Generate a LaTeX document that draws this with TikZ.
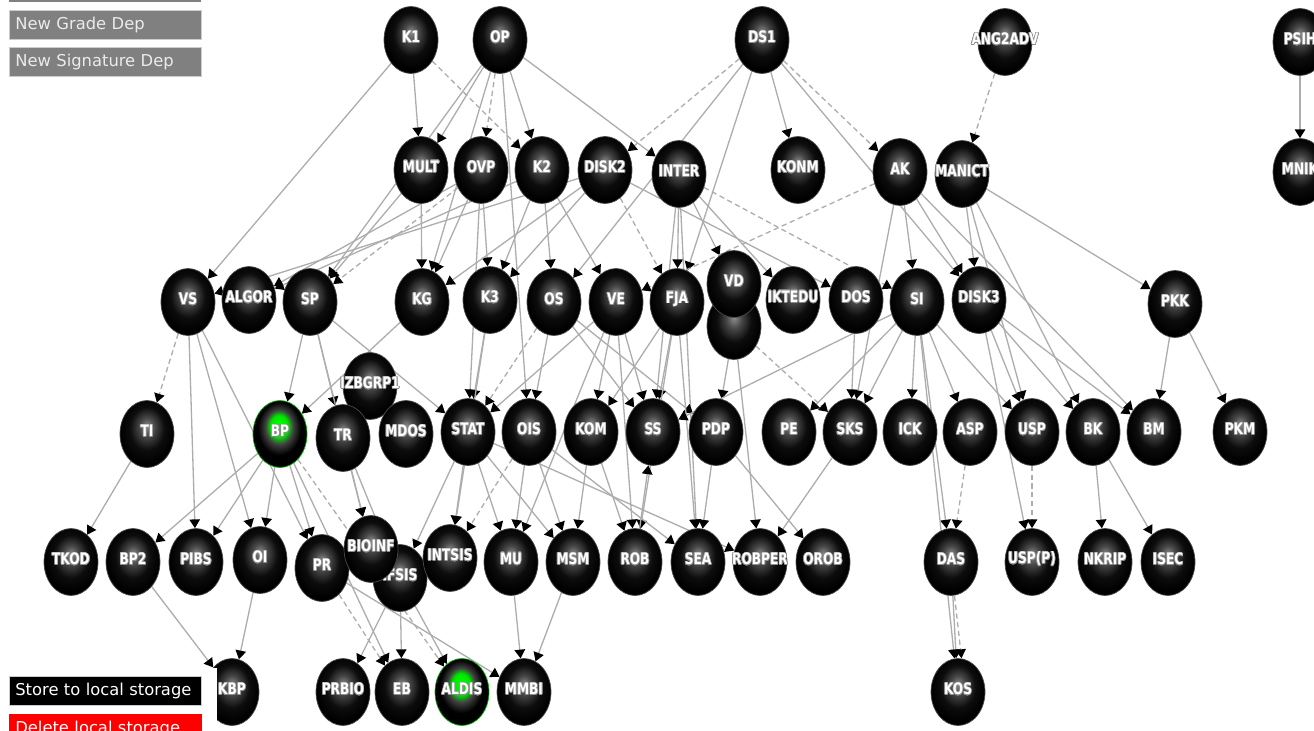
\documentclass[tikz,border=0pt]{standalone}
\usepackage{fontspec}
\setmainfont{DejaVu Sans}
\newfontfamily\coursefont[FakeStretch=0.77]{DejaVu Sans}
\usepackage[copies]{contour}
\contourlength{0.35pt}
\usetikzlibrary{shapes.geometric,arrows.meta,backgrounds}

% shiny course balls
\pgfdeclareradialshading{courseball}{\pgfpoint{0bp}{6bp}}{color(0bp)=(black!45); color(7bp)=(black!72); color(16bp)=(black!95); color(25bp)=(black); color(50bp)=(black)}
\pgfdeclareradialshading{passedball}{\pgfpoint{-1bp}{7bp}}{color(0bp)=(green); color(8bp)=(green!90!black); color(13bp)=(black!75); color(20bp)=(black); color(50bp)=(black)}

\begin{document}
\begin{tikzpicture}[x=0.02cm, y=-0.02cm,
    course/.style={ellipse, minimum width=1.08cm, minimum height=1.34cm, inner sep=0pt,
        shade, shading=courseball, draw=black!70,
        label={[coursetext]center:\contour{black!45}{#1}}},
    coursetext/.style={text=white, inner sep=0pt, yshift=1.6pt,
        font=\coursefont\bfseries\fontsize{9}{10}\selectfont},
    passed/.style={course=#1, shading=passedball, draw=green!70!black},
    dep/.style={draw=black!32, line width=0.75pt, -{Triangle[width=6pt,length=5pt,color=black,fill=black]}},
    sigdep/.style={dep, dash pattern=on 3pt off 2pt},
    button/.style={rectangle, anchor=north west, minimum width=3.84cm, minimum height=0.58cm,
        text width=3.6cm, align=left, inner xsep=0.12cm, font=\fontsize{9.3}{11}\selectfont}]

    \useasboundingbox (0,0) rectangle (1314,730);
    \clip (0,0) rectangle (1314,730);

    % Year 1
    \node [course=K1] (K1) at (411,40) {};
    \node [course=OP] (OP) at (500,40) {};
    \node [course=DS1] (DS1) at (762,40) {};
    \node [course=ANG2ADV] (ANG2ADV) at (1005,42) {};
    \node [course=PSIH] (PSIH) at (1300,42) {};

    % Year 2
    \node [course=MULT] (MULT) at (421,170) {};
    \node [course=OVP] (OVP) at (481,170) {};
    \node [course=K2] (K2) at (542,170) {};
    \node [course=DISK2] (DISK2) at (605,170) {};
    \node [course=INTER] (INTER) at (679,174) {};
    \node [course=KONM] (KONM) at (798,170) {};
    \node [course=AK] (AK) at (900,172) {};
    \node [course=MANICT] (MANICT) at (962,174) {};
    \node [course=MNIK] (MNIK) at (1300,172) {};

    % Year 3
    \node [course=VS] (VS) at (188,302) {};
    \node [course=ALGOR] (ALGOR) at (249,300) {};
    \node [course=SP] (SP) at (310,302) {};
    \node [course=KG] (KG) at (422,302) {};
    \node [course=K3] (K3) at (490,300) {};
    \node [course=OS] (OS) at (554,302) {};
    \node [course=VE] (VE) at (616,302) {};
    \node [course=FJA] (FJA) at (677,302) {};
    \node [course=] (VDB) at (734,326) {};
    \node [course=VD] (VD) at (734,284) {};
    \node [course=IKTEDU] (IKTEDU) at (793,300) {};
    \node [course=DOS] (DOS) at (856,300) {};
    \node [course=SI] (SI) at (917,302) {};
    \node [course=DISK3] (DISK3) at (979,300) {};
    \node [course=PKK] (PKK) at (1175,304) {};

    % Year 4
    \node [course=IZBGRP1] (IZBGRP1) at (370,386) {};
    \node [course=TI] (TI) at (147,434) {};
    \node [passed=BP] (BP) at (280,434) {};
    \node [course=TR] (TR) at (343,438) {};
    \node [course=MDOS] (MDOS) at (406,434) {};
    \node [course=STAT] (STAT) at (468,432) {};
    \node [course=OIS] (OIS) at (529,432) {};
    \node [course=KOM] (KOM) at (591,432) {};
    \node [course=SS] (SS) at (653,432) {};
    \node [course=PDP] (PDP) at (716,432) {};
    \node [course=PE] (PE) at (789,432) {};
    \node [course=SKS] (SKS) at (850,432) {};
    \node [course=ICK] (ICK) at (910,432) {};
    \node [course=ASP] (ASP) at (970,432) {};
    \node [course=USP] (USP) at (1032,432) {};
    \node [course=BK] (BK) at (1093,432) {};
    \node [course=BM] (BM) at (1154,432) {};
    \node [course=PKM] (PKM) at (1240,432) {};

    % Year 5
    \node [course=TKOD] (TKOD) at (71,562) {};
    \node [course=BP2] (BP2) at (133,562) {};
    \node [course=PIBS] (PIBS) at (196,562) {};
    \node [course=OI] (OI) at (260,560) {};
    \node [course=PR] (PR) at (322,568) {};
    \node [course=IFSIS] (IFSIS) at (400,578) {};
    \node [course=BIOINF] (BIOINF) at (371,549) {};
    \node [course=INTSIS] (INTSIS) at (450,558) {};
    \node [course=MU] (MU) at (511,562) {};
    \node [course=MSM] (MSM) at (573,562) {};
    \node [course=ROB] (ROB) at (635,562) {};
    \node [course=SEA] (SEA) at (698,562) {};
    \node [course=ROBPER] (ROBPER) at (760,562) {};
    \node [course=OROB] (OROB) at (823,562) {};
    \node [course=DAS] (DAS) at (951,562) {};
    \node [course=USP(P)] (USPP) at (1032,562) {};
    \node [course=NKRIP] (NKRIP) at (1105,562) {};
    \node [course=ISEC] (ISEC) at (1168,562) {};

    % Year 6
    \node [course=KBP] (KBP) at (232,692) {};
    \node [course=PRBIO] (PRBIO) at (343,692) {};
    \node [course=EB] (EB) at (402,692) {};
    \node [passed=ALDIS] (ALDIS) at (462,692) {};
    \node [course=MMBI] (MMBI) at (524,692) {};
    \node [course=KOS] (KOS) at (958,692) {};

    % Dependencies
    \begin{scope}[on background layer]
    \foreach \from/\to in {K1/VS, K1/MULT, OP/MULT, OP/K2, OP/INTER, OP/OIS, OP/SP, OP/KG,
        DS1/OS, DS1/FJA, DS1/KONM, DS1/DISK3, PSIH/MNIK,
        MULT/SP, MULT/KG, OVP/ALGOR, OVP/KG, OVP/K3, OVP/STAT, K2/K3, K2/OS, K2/VE, K2/ALGOR,
        DISK2/VS, DISK2/K3, DISK2/KG, DISK2/DOS, INTER/FJA, INTER/VD, INTER/IKTEDU, INTER/SS,
        INTER/SEA, AK/SI, AK/DISK3, AK/SKS, AK/BM, MANICT/DISK3, MANICT/PKK, MANICT/USP, MANICT/BK,
        VS/PIBS, VS/OI, VS/PR, SP/BP, SP/TR, SP/BIOINF, SP/STAT, KG/BP, K3/STAT, K3/INTSIS,
        OS/OIS, OS/SS, OS/PDP, VE/STAT, VE/KOM, VE/SS, VE/MU, VE/ROB, FJA/KOM, FJA/SS, FJA/SEA,
        FJA/ROB, VDB/PDP, VDB/ROBPER, DOS/SKS, SI/ICK, SI/ASP, SI/DAS, SI/KOS, SI/USP,
        SI/SS, SI/PE, SI/SKS, DISK3/USP, DISK3/USPP, DISK3/BK, DISK3/BM, PKK/BM, PKK/PKM,
        TI/TKOD, BP/BP2, BP/PIBS, BP/OI, BP/PR, BP/EB, TR/BIOINF, TR/IFSIS, STAT/IFSIS,
        STAT/INTSIS, STAT/MU, STAT/MSM, STAT/ROBPER, OIS/MU, OIS/MSM, OIS/SEA, KOM/MSM, KOM/ROB,
        ROB/SS, PDP/SEA, PDP/OROB, SKS/ROBPER, BK/NKRIP, BK/ISEC,
        BP2/KBP, OI/KBP, IFSIS/PRBIO, IFSIS/EB, IFSIS/ALDIS, PR/MMBI, MU/MMBI, MSM/MMBI, DAS/KOS}
        \draw [dep] (\from) -- (\to);
    \foreach \from/\to in {K1/K2, OP/OVP, DS1/DISK2, DS1/AK, ANG2ADV/MANICT, OVP/SP, DISK2/FJA,
        AK/VE, INTER/SI, VS/TI, OS/STAT, VDB/SKS, BP/ALDIS, OIS/INTSIS, PR/EB, ASP/DAS, USP/USPP}
        \draw [sigdep] (\from) -- (\to);
    \draw [sigdep] ([xshift=2pt]DAS.south) -- ([xshift=2pt]KOS.north);
    \end{scope}

    % Buttons
    \fill [black!50] (9,-20) rectangle (201,2);
    \node [button, fill=black!50, draw=black!20, text=black!8] (gradebtn) at (9,10) {New Grade Dep};
    \node [button, fill=black!50, draw=black!20, text=black!8] (signaturebtn) at (9,47) {New Signature Dep};
    \fill [white] (0,668) rectangle (217,730);
    \node [button, fill=black, draw=black!20, text=white] (storebtn) at (9,676) {Store to local storage};
    \node [button, fill=red, draw=red, text=white] (deletebtn) at (9,714) {Delete local storage};
\end{tikzpicture}
\end{document}
